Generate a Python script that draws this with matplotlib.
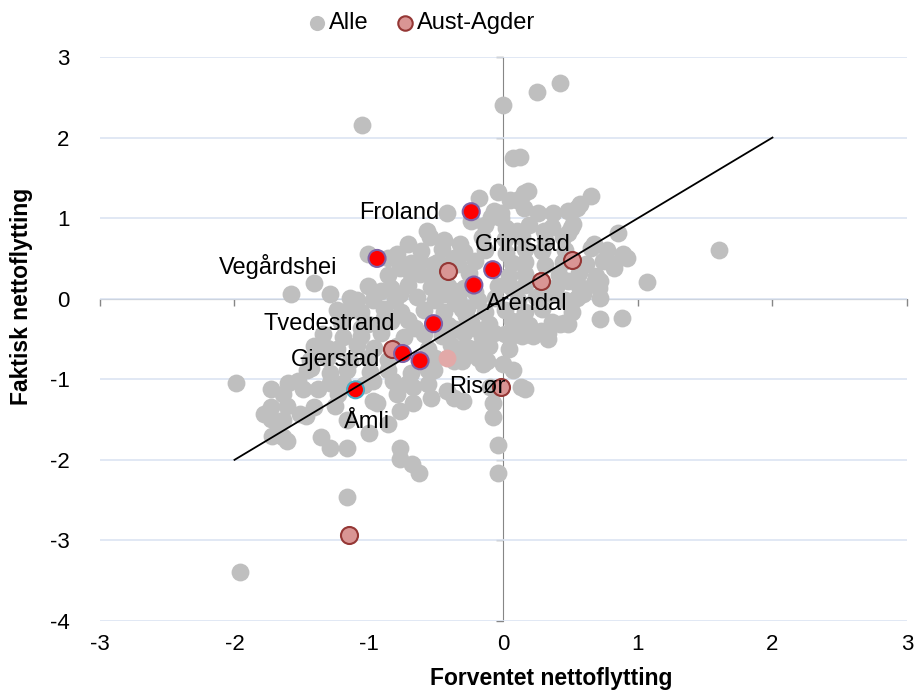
import numpy as np
import matplotlib.pyplot as plt

plt.rcParams['font.family'] = ['Liberation Sans', 'DejaVu Sans']
plt.rcParams['axes.unicode_minus'] = False

# alle kommuner: (forventet, faktisk) nettoflytting
alle = np.array([
    # spredte punkter
    (0.00, 2.41), (0.42, 2.68), (0.25, 2.56), (-1.05, 2.16),
    (0.07, 1.75), (0.12, 1.76), (-0.04, 1.32), (0.15, 1.31), (-0.18, 1.25), (0.65, 1.28),
    (0.57, 1.18), (0.48, 1.09), (0.37, 1.07), (0.26, 1.07), (-0.02, 1.07), (0.05, 1.22), (0.15, 1.13),
    (0.10, 0.84), (0.30, 0.84), (0.48, 0.82), (0.52, 0.93), (0.85, 0.82), (0.65, 0.63), (0.77, 0.60),
    (0.89, 0.56), (1.60, 0.61), (1.07, 0.21), (0.82, 0.38), (0.92, 0.51), (0.67, 0.19), (0.55, 0.01),
    (0.72, 0.01), (0.88, -0.24), (0.72, -0.25), (0.45, -0.30), (0.42, -0.31), (0.28, -0.40),
    (0.33, -0.50), (0.07, -0.43), (0.22, -0.46), (0.00, -0.81), (0.07, -0.89), (-0.15, -0.81),
    (0.16, -1.12), (-0.08, -1.30), (-0.08, -1.47), (-0.30, -1.27), (-0.04, -1.82), (-0.04, -2.16),
    (-0.77, -1.99), (-0.68, -2.05), (-0.63, -2.16), (-1.16, -2.46), (-1.96, -3.39), (-1.99, -1.04),
    (-1.58, 0.06), (-1.41, 0.19), (-1.29, 0.06), (-1.09, -0.02), (-0.97, -0.02), (-1.16, -0.15),
    (-0.42, 1.07), (-0.57, 0.84), (-0.71, 0.68), (-0.79, 0.56), (-0.62, 0.47), (-0.52, 0.43),
    (-0.37, 0.51), (-0.32, 0.68), (-0.07, 1.09), (-0.02, 1.00), (0.10, 1.22), (0.18, 1.34),
    (0.55, 1.13), (0.50, 0.88), (0.67, 0.68), (0.82, 0.43), (0.72, 0.22), (0.48, 0.22), (0.35, 0.06),
    (0.59, 0.06), (0.48, -0.31), (0.33, -0.43), (0.13, -0.27), (0.05, -0.48),
    (-1.01, 0.56), (-0.86, 0.51), (-0.77, 0.38), (-0.91, 0.10), (-0.77, 0.06), (-0.62, 0.31),
    (-0.47, 0.22), (-0.37, 0.10), (-0.71, -0.27), (-0.89, -0.24), (-1.06, -0.36), (-1.19, -0.48),
    (-1.31, -0.61), (-1.43, -0.86), (-1.53, -1.02), (-1.64, -1.18), (-1.78, -1.43), (-1.64, -1.51),
    (-1.41, -1.35), (-1.23, -1.18), (-0.97, -1.02), (-0.82, -1.02), (-0.67, -1.10), (-0.52, -0.89),
    (-0.37, -0.77), (-0.30, -0.61), (-0.19, -0.61), (-0.12, -0.77), (-0.10, -1.10), (0.13, -1.10),
    (-0.37, -1.23), (-0.22, -0.36), (-0.07, -0.43), (-0.27, -0.11),
    # nedre venstre gruppe
    (-1.73, -1.12), (-1.60, -1.04), (-1.49, -1.12), (-1.38, -1.12), (-1.29, -1.05), (-1.73, -1.35),
    (-1.61, -1.33), (-1.73, -1.49), (-1.68, -1.53), (-1.72, -1.70), (-1.64, -1.72), (-1.47, -1.45),
    (-1.36, -1.72), (-1.29, -1.85), (-1.25, -1.33), (-1.16, -1.51), (-1.00, -1.67), (-0.94, -1.30),
    (-0.97, -1.27), (-0.79, -1.18), (-0.77, -1.39), (-0.86, -1.55), (-0.67, -1.30), (-0.54, -1.23),
    (-0.42, -1.14), (-0.77, -1.85), (-1.16, -1.85), (-1.51, -1.43), (-1.61, -1.76),
    # tett kjerne
    (-0.14, 0.91), (0.02, 0.88), (0.19, 0.92), (0.36, 0.89), (-0.24, 0.96), (-0.09, 1.02),
    (-0.55, 0.76), (-0.44, 0.73), (-0.16, 0.77), (0.01, 0.74), (0.14, 0.76), (0.31, 0.73), (0.44, 0.77),
    (-0.61, 0.59), (-0.46, 0.62), (-0.29, 0.58), (-0.14, 0.61), (0.02, 0.57), (0.16, 0.62), (0.29, 0.59),
    (0.46, 0.61), (-0.69, 0.44), (-0.49, 0.46), (-0.34, 0.43), (-0.21, 0.47), (0.06, 0.44), (0.16, 0.46),
    (0.31, 0.42), (0.44, 0.46), (0.61, 0.43), (0.74, 0.47), (-0.86, 0.29), (-0.69, 0.31), (-0.54, 0.28),
    (-0.26, 0.32), (0.04, 0.28), (0.16, 0.31), (0.41, 0.29), (0.56, 0.32), (0.69, 0.28),
    (-1.01, 0.16), (-0.84, 0.13), (-0.71, 0.17), (-0.54, 0.14), (-0.41, 0.16), (-0.29, 0.13),
    (-0.04, 0.16), (0.06, 0.13), (0.16, 0.17), (0.39, 0.14), (0.56, 0.16), (0.71, 0.13),
    (-1.14, 0.01), (-0.81, -0.02), (-0.64, 0.02), (-0.51, -0.01), (-0.34, 0.02), (-0.19, -0.02),
    (-0.06, 0.01), (0.11, -0.01), (0.24, 0.02), (0.46, -0.02), (-1.24, -0.14), (-1.06, -0.16),
    (-0.89, -0.13), (-0.76, -0.16), (-0.59, -0.14), (-0.44, -0.17), (-0.31, -0.13), (-0.14, -0.16),
    (0.01, -0.14), (0.16, -0.17), (0.29, -0.13), (0.51, -0.16), (-1.21, -0.29), (-1.01, -0.31),
    (-0.84, -0.28), (-0.41, -0.32), (-0.24, -0.29), (-0.11, -0.31), (0.06, -0.28), (0.19, -0.32),
    (0.36, -0.29), (-1.34, -0.44), (-1.06, -0.46), (-0.91, -0.43), (-0.74, -0.47), (-0.59, -0.44),
    (-0.46, -0.46), (-0.29, -0.43), (-0.16, -0.47), (0.01, -0.44), (0.14, -0.46),
    (-1.41, -0.59), (-1.24, -0.62), (-1.09, -0.58), (-0.96, -0.61), (-0.79, -0.59), (-0.56, -0.62),
    (-0.39, -0.58), (-0.26, -0.61), (-0.11, -0.59), (0.04, -0.62), (-1.44, -0.76), (-1.31, -0.73),
    (-1.14, -0.77), (-1.01, -0.74), (-0.86, -0.76), (-0.51, -0.74), (-0.31, -0.77), (-0.19, -0.73),
    (-1.46, -0.89), (-1.29, -0.92), (-1.16, -0.88), (-0.99, -0.91), (-0.86, -0.89), (-0.69, -0.92),
    (-0.56, -0.89), (-1.19, -1.04), (-1.04, -1.07), (-0.71, -1.04), (-0.56, -1.06),
    (-0.36, -0.05), (-0.44, 0.06), (-0.21, 0.08), (-0.28, -0.22), (-0.36, -0.38), (-0.66, -0.36),
])

# andre kommuner i Aust-Agder
agder_x = [-0.41, 0.28, 0.51, -0.83, -0.02, -1.15]
agder_y = [0.34, 0.22, 0.48, -0.63, -1.09, -2.93]
agder_lys_x = [-0.42]
agder_lys_y = [-0.74]

# navngitte kommuner
navn = ['Froland', 'Vegårdshei', 'Grimstad', 'Arendal',
        'Tvedestrand', 'Gjerstad', 'Risør', 'Åmli']
navn_x = [-0.24, -0.94, -0.08, -0.22, -0.52, -0.75, -0.62, -1.10]
navn_y = [1.08, 0.50, 0.36, 0.17, -0.31, -0.68, -0.77, -1.13]
navn_dxy = [(-52, -1), (-71, -6), (22, 18), (38, -14),
            (-75, 0), (-48, -5), (41, -19), (8, -23)]

linje_x = [-2, 2]
linje_y = [-2, 2]

fig = plt.figure(figsize=(9.14, 6.91), dpi=100)
ax = fig.add_axes([0.1094, 0.1013, 0.8829, 0.8162])

ax.scatter(alle[:, 0], alle[:, 1], s=165, c='#BFBFBF', linewidths=0,
           label='Alle', zorder=2)
ax.scatter(agder_lys_x, agder_lys_y, s=165, c='#E2A9A8', linewidths=0, zorder=3)
ax.scatter(agder_x, agder_y, s=150, c='#D99594', edgecolors='#953735',
           linewidths=1.5, label='Aust-Agder', zorder=3)
kant = ['#7F62A8'] * 7 + ['#4BACC6']
ax.scatter(navn_x, navn_y, s=150, c='#FF0000', edgecolors=kant,
           linewidths=1.5, zorder=4)
ax.plot(linje_x, linje_y, color='black', lw=1.3, zorder=5)

for n, x, y, d in zip(navn, navn_x, navn_y, navn_dxy):
    ax.annotate(n, (x, y), xytext=d, textcoords='offset points',
                ha='center', va='center', fontsize=17, zorder=6)

ax.set_xlim(-3, 3)
ax.set_ylim(-4, 3)
ax.set_xticks(range(-3, 4))
ax.set_yticks(range(-4, 4))
for s in ax.spines.values():
    s.set_visible(False)
ax.tick_params(length=0, labelsize=16)
ax.tick_params(axis='y', pad=22)
ax.tick_params(axis='x', pad=9)
ax.grid(axis='y', color='#DCE4F2', lw=1.2)
ax.set_axisbelow(True)

# akser gjennom origo
gr = '#868686'
sx = ax.secondary_xaxis(4 / 7)
sx.set_xticks(range(-3, 4))
sx.tick_params(direction='in', length=5, color=gr, width=1,
               labeltop=False, labelbottom=False)
for s in sx.spines.values():
    s.set_color(gr)
sy = ax.secondary_yaxis(0.5)
sy.set_yticks(range(-4, 4))
sy.tick_params(direction='in', length=5, color=gr, width=1,
               labelleft=False, labelright=False)
for s in sy.spines.values():
    s.set_color(gr)

fig.text(551 / 914, 1 - 678 / 691, 'Forventet nettoflytting', ha='center',
         va='center', fontsize=16.5, fontweight='bold')
fig.text(22 / 914, 1 - 296 / 691, 'Faktisk nettoflytting', ha='center',
         va='center', rotation=90, fontsize=16.5, fontweight='bold')

fig.legend(loc='center', bbox_to_anchor=(422 / 914, 1 - 23 / 691), ncol=2,
           frameon=False, fontsize=17, markerscale=0.85, handlelength=0.7,
           handletextpad=0.15, columnspacing=1.2, borderpad=0)

fig.savefig('out.png', dpi=100)
